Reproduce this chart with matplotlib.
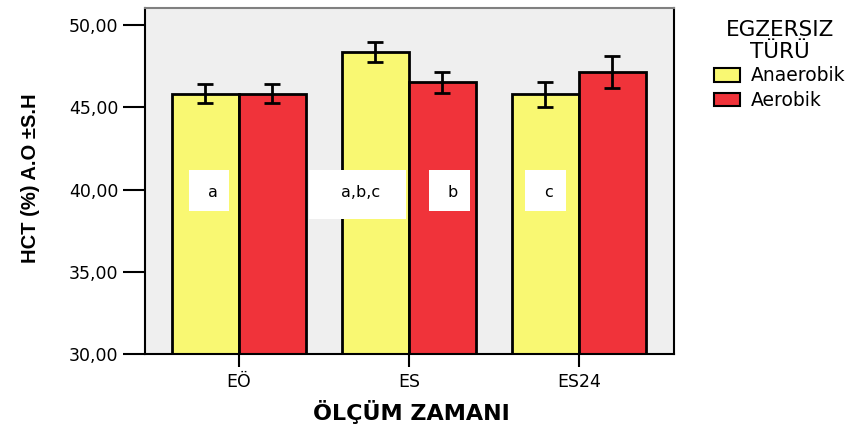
# HCT bar chart by measurement time and exercise type
import numpy as np
import matplotlib.pyplot as plt
from matplotlib.patches import Patch, Rectangle

# %% data
categories = ['EÖ', 'ES', 'ES24']
anaerobik = [45.81, 48.36, 45.80]
aerobik = [45.81, 46.53, 47.14]
err_anaerobik = [0.58, 0.60, 0.76]
err_aerobik = [0.58, 0.64, 0.97]

series_names = ['Anaerobik', 'Aerobik']
legend_title = 'EGZERSIZ\nTÜRÜ'
ylabel = 'HCT (%) A.O ±S.H'
xlabel = 'ÖLÇÜM ZAMANI'

# significance letters (x in category units, box width)
sig_text = ['a', 'a,b,c', 'b', 'c']
sig_x = [-0.176, 0.697, 1.238, 1.803]
sig_w = [0.235, 0.57, 0.24, 0.24]

yellow = '#F9F872'
red = '#F0333A'
bg = '#EFEFEF'

plt.rcParams['font.family'] = ['DejaVu Sans']

# %% figure
fig = plt.figure(figsize=(8.64, 4.25), dpi=100)
ax = fig.add_axes([0.1678, 0.167, 0.6123, 0.814])
ax.set_facecolor(bg)

x = np.arange(len(categories))
w = 0.394
ax.bar(x - w/2, anaerobik, w, color=yellow, edgecolor='black', linewidth=2, zorder=2)
ax.bar(x + w/2, aerobik, w, color=red, edgecolor='black', linewidth=2, zorder=2)
ax.errorbar(x - w/2, anaerobik, yerr=err_anaerobik, fmt='none', ecolor='black',
            elinewidth=2, capsize=6, capthick=2, zorder=3)
ax.errorbar(x + w/2, aerobik, yerr=err_aerobik, fmt='none', ecolor='black',
            elinewidth=2, capsize=6, capthick=2, zorder=3)

# letter boxes
for t, xc, bw in zip(sig_text, sig_x, sig_w):
    h0, h1 = (38.2, 41.19) if ',' in t else (38.69, 41.19)
    ax.add_patch(Rectangle((xc - bw/2, h0), bw, h1 - h0, facecolor='white',
                           edgecolor='none', zorder=4))
    ax.text(xc + 0.02, 39.8, t, ha='center', va='center', fontsize=11.5, zorder=5)

ax.set_xlim(-0.553, 2.559)
ax.set_ylim(30, 51.03)
ax.set_yticks([30, 35, 40, 45, 50])
ax.set_yticklabels(['30,00', '35,00', '40,00', '45,00', '50,00'])
ax.set_xticks(x)
ax.set_xticklabels(categories)
ax.tick_params(axis='y', length=16, width=1.5, pad=3, labelsize=12.5)
ax.tick_params(axis='x', length=9, width=1.5, pad=5, labelsize=12.5)

for s in ['left', 'bottom', 'right']:
    ax.spines[s].set_linewidth(1.5)
    ax.spines[s].set_color('black')
ax.spines['top'].set_color('#808080')
ax.spines['top'].set_linewidth(1.5)

ax.set_ylabel(ylabel, family='Liberation Sans', fontweight='bold', fontsize=14.5)
ax.yaxis.set_label_coords(-0.198, 0.509)
ax.set_xlabel(xlabel, fontweight='bold', fontsize=16)
ax.xaxis.set_label_coords(0.503, -0.133)

handles = [Patch(facecolor=yellow, edgecolor='black', linewidth=1.5),
           Patch(facecolor=red, edgecolor='black', linewidth=1.5)]
leg = fig.legend(handles, series_names, title=legend_title, loc='upper left',
                 bbox_to_anchor=(0.818, 0.97), frameon=False, fontsize=13.5,
                 title_fontsize=15.5, handlelength=1.35, handleheight=0.75,
                 handletextpad=0.6, labelspacing=0.3, borderaxespad=0)
leg.get_title().set_multialignment('center')
leg.get_title().set_linespacing(1.12)
leg._legend_box.sep = 3

fig.savefig('out.png', dpi=100)
